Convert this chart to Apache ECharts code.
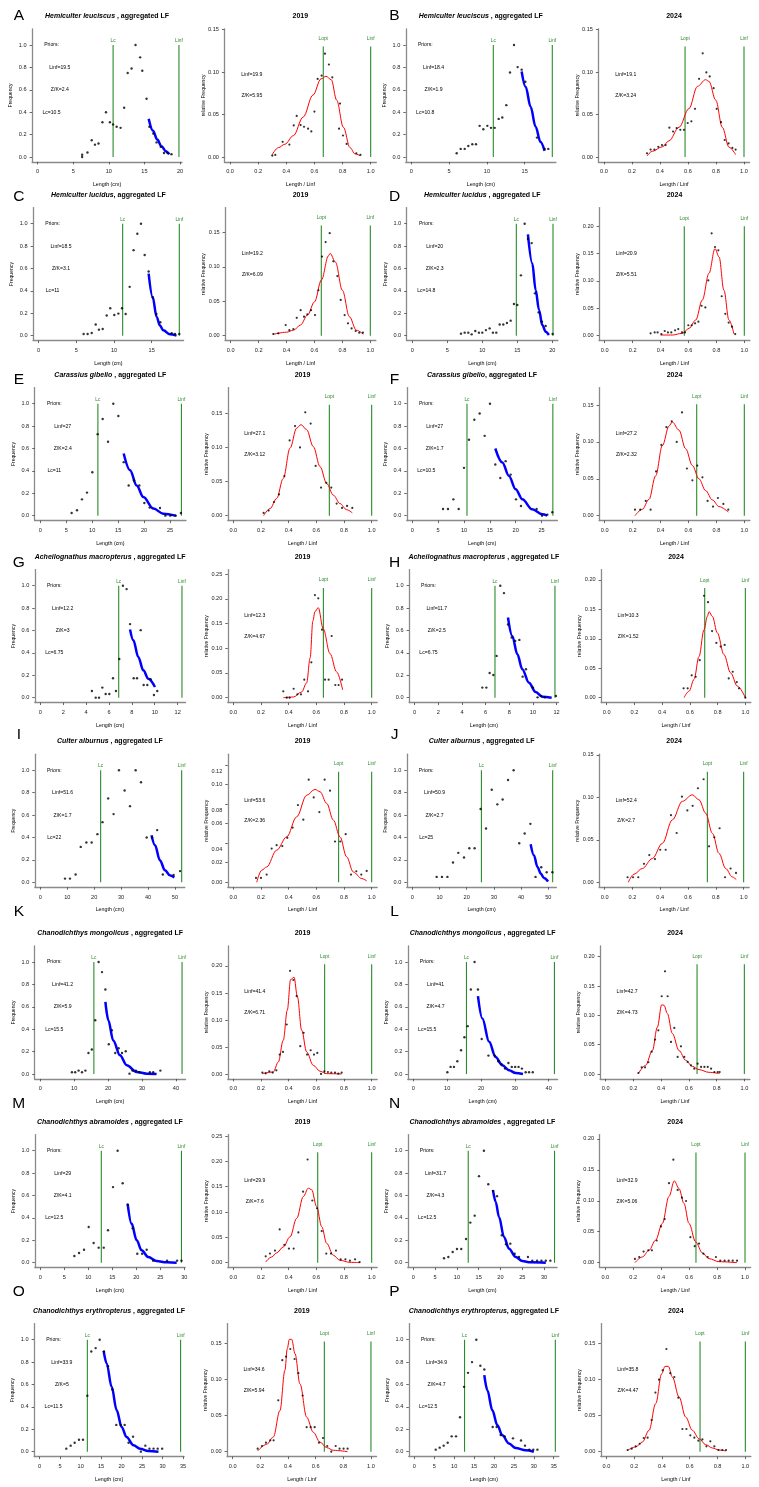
<!DOCTYPE html>
<html><head><meta charset="utf-8">
<script src="https://cdn.jsdelivr.net/npm/echarts@6/dist/echarts.min.js"></script>
<style>html,body{margin:0;padding:0;background:#fff}#c{width:759px;height:1487px}</style>
</head><body><div id="c"></div>
<script>
// ---------- DATA ----------
const letters = ['A','B','C','D','E','F','G','H','I','J','K','L','M','N','O','P'];
const species = ['Hemiculter leuciscus','Hemiculter leuciscus','Hemiculter lucidus','Hemiculter lucidus',
  'Carassius gibelio','Carassius gibelio','Acheilognathus macropterus','Acheilognathus macropterus',
  'Culter alburnus','Culter alburnus','Chanodichthys mongolicus','Chanodichthys mongolicus',
  'Chanodichthys abramoides','Chanodichthys abramoides','Chanodichthys erythropterus','Chanodichthys erythropterus'];
const titleSep = [' , ',' , ',', ',' , ',' , ',', ',' , ',' , ',' , ',' , ',' , ',' , ',' , ',' , ',' , ',', '];
const years = ['2019','2024'];
const priorLinf = [19.5,18.4,18.5,20,27,27,12.2,11.7,51.6,50.9,41.2,41,29,31.7,33.9,34.9];
const priorZK   = [2.4,1.9,3.1,2.3,2.4,1.7,3,2.5,1.7,2.7,5.9,4.7,4.1,4.3,5,4.7];
const priorLc   = [10.5,10.8,11,14.8,11,10.5,6.75,6.75,22,25,15.5,15.5,12.5,12.5,11.5,12.5];
const fitLinf   = [19.9,19.1,19.2,20.9,27.1,27.2,12.3,10.3,53.6,52.4,41.4,42.7,29.9,32.9,34.6,35.8];
const fitZK     = [5.95,3.24,6.09,5.51,3.12,2.32,4.67,1.52,2.36,2.7,6.71,4.73,7.6,5.06,5.94,4.47];
const lcLine    = [10.6,10.85,11.15,14.86,11.1,10.58,6.85,6.79,22.4,25.4,15.8,15.7,12.7,12.6,11.64,12.6];
const linfLine  = [19.85,18.66,18.67,20.1,27.2,27.2,12.38,11.86,52.5,51.6,41.8,41.7,29.4,32.4,34.4,35.4];
const loptLine  = [0.663,0.579,0.649,0.57,0.694,0.659,0.651,0.707,0.761,0.739,0.66,0.659,0.61,0.649,0.663,0.674];
const relTop    = [0.13,0.13,0.16,0.20,0.162,0.151,0.222,0.186,0.113,0.13,0.203,0.187,0.218,0.178,0.153,0.153];
const relYMax   = [0.145,0.145,0.179,0.225,0.18,0.167,0.249,0.209,0.126,0.145,0.228,0.21,0.243,0.199,0.171,0.171];
const lfXStep   = [5,5,5,5,5,5,2,2,10,10,10,10,5,5,5,5];
const relYStep  = [0.05,0.05,0.05,0.05,0.05,0.05,0.05,0.05,0.02,0.05,0.05,0.05,0.05,0.05,0.05,0.05];
const lfYTicks  = [0,0.2,0.4,0.6,0.8,1.0];
const relXTicks = [0,0.2,0.4,0.6,0.8,1.0];

// length-frequency points (length cm, frequency) and catch-curve fits
const lfA=[[6.25,0.02],[6.25,0.0],[7.0,0.04],[7.6,0.15],[8.05,0.11],[8.55,0.12],[9.1,0.31],[9.6,0.4],[10.15,0.31],[10.6,0.29],[11.1,0.27],[11.65,0.26],[12.15,0.44],[12.65,0.75],[13.2,0.79],[13.75,1.0],[14.4,0.89],[14.7,0.77],[15.3,0.52],[15.7,0.27],[16.25,0.21],[16.7,0.13],[17.3,0.09],[17.75,0.036],[18.25,0.036],[18.8,0.024]];
const fitA=[[15.6,0.34],[16.2,0.235],[16.8,0.155],[17.4,0.095],[18.0,0.052],[18.5,0.025]];
const lfB=[[6.0,0.033],[6.53,0.072],[7.06,0.072],[7.54,0.098],[8.07,0.113],[8.56,0.113],[9.04,0.278],[9.53,0.248],[10.06,0.278],[10.54,0.26],[11.03,0.26],[11.56,0.34],[12.04,0.352],[12.57,0.463],[13.06,0.755],[13.59,1.0],[14.07,0.803],[14.6,0.78],[15.09,0.672],[16.63,0.173],[17.64,0.072],[18.13,0.072]];
const fitB=[[14.6,0.764],[15.13,0.627],[15.79,0.448],[16.45,0.269],[17.1,0.134],[17.64,0.054]];
const lfC=[[5.97,0.015],[6.5,0.015],[7.04,0.024],[7.57,0.10],[8.0,0.054],[8.5,0.06],[9.03,0.18],[9.5,0.245],[10.04,0.185],[10.58,0.197],[11.06,0.245],[11.55,0.194],[12.08,0.436],[12.6,0.764],[13.1,0.91],[13.58,1.0],[14.07,0.72],[14.6,0.573],[15.13,0.343],[15.62,0.194],[16.15,0.12],[17.65,0.021],[18.1,0.015],[18.67,0.015]];
const fitC=[[14.6,0.555],[15.13,0.346],[15.66,0.167],[16.1,0.09],[16.55,0.048],[17.43,0.012],[18.3,0.0]];
const lfD=[[6.95,0.018],[7.48,0.027],[8.0,0.027],[8.48,0.012],[9.0,0.042],[9.52,0.027],[10.0,0.027],[10.52,0.05],[11.05,0.065],[11.52,0.027],[12.0,0.027],[12.48,0.10],[13.0,0.10],[13.52,0.113],[14.05,0.134],[14.52,0.283],[15.0,0.274],[15.52,0.539],[16.05,1.0],[16.52,0.863],[17.05,0.827],[17.52,0.378],[18.05,0.208],[18.52,0.125],[19.05,0.086],[20.05,0.015]];
const fitD=[[16.52,0.905],[17.14,0.646],[17.62,0.408],[18.1,0.23],[18.57,0.095],[19.05,0.036],[19.52,0.006]];
const lfE=[[6.04,0.024],[7.07,0.048],[8.03,0.146],[9.0,0.206],[10.03,0.388],[11.05,0.728],[12.02,0.863],[13.05,0.66],[14.07,1.0],[15.04,0.89],[16.07,0.478],[17.03,0.269],[18.06,0.316],[19.09,0.269],[20.05,0.113],[21.08,0.072],[23.07,0.069],[24.1,0.0],[25.06,0.0],[26.1,0.0],[27.1,0.024]];
const fitE=[[16.07,0.555],[17.3,0.406],[18.57,0.27],[19.86,0.167],[21.8,0.063],[23.7,0.018],[26.1,0.0]];
const lfF=[[5.94,0.06],[6.9,0.06],[7.94,0.146],[8.97,0.06],[10.0,0.427],[10.97,0.678],[12.0,0.857],[13.03,0.913],[14.0,0.713],[15.03,1.0],[16.06,0.457],[17.03,0.337],[18.06,0.487],[19.03,0.367],[20.06,0.146],[21.03,0.087],[24.06,0.06],[25.1,0.0],[26.13,0.009],[27.1,0.03]];
const fitF=[[16.06,0.60],[17.42,0.475],[18.7,0.355],[20.0,0.236],[21.3,0.146],[23.2,0.057],[25.16,0.012],[26.1,0.0]];
const lfG=[[4.51,0.06],[4.84,0.0],[5.13,0.0],[5.42,0.09],[5.71,0.033],[6.03,0.033],[6.35,0.173],[6.61,0.06],[6.9,0.346],[7.22,1.0],[7.54,0.97],[7.84,0.657],[8.16,0.173],[8.45,0.173],[8.77,0.603],[9.03,0.113],[9.35,0.113],[9.64,0.164],[9.93,0.024],[10.22,0.06]];
const fitG=[[7.84,0.609],[8.13,0.513],[8.56,0.364],[9.0,0.245],[9.44,0.17],[10.02,0.095]];
const lfH=[[5.72,0.09],[6.06,0.09],[6.34,0.22],[6.65,0.203],[6.93,0.373],[7.24,1.0],[7.55,0.934],[7.89,0.654],[8.2,0.537],[8.5,0.507],[8.85,0.516],[9.13,0.188],[9.41,0.254],[10.0,0.09],[10.39,0.003],[10.7,0.015],[11.0,0.003],[11.94,0.015]];
const fitH=[[7.89,0.716],[8.25,0.552],[8.68,0.388],[9.1,0.254],[9.66,0.134],[10.23,0.05],[10.79,0.009],[11.58,0.0]];
const lfI=[[9.16,0.033],[11.0,0.033],[13.1,0.069],[15.0,0.316],[17.1,0.355],[19.06,0.355],[21.2,0.43],[23.1,0.537],[25.2,0.749],[27.2,0.609],[29.2,1.0],[31.3,0.82],[33.3,0.68],[35.4,1.0],[37.4,0.893],[39.5,0.40],[41.5,0.40],[43.4,0.466],[45.5,0.069],[49.5,0.066],[51.9,0.10]];
const fitI=[[41.3,0.42],[42.6,0.331],[44.4,0.197],[46.3,0.107],[48.1,0.063],[49.75,0.042]];
const lfJ=[[8.95,0.048],[10.9,0.048],[12.9,0.048],[14.95,0.176],[16.9,0.263],[19.0,0.221],[20.96,0.304],[22.9,0.304],[25.1,0.654],[27.1,0.48],[29.2,0.827],[31.25,0.696],[33.2,0.74],[35.2,0.913],[37.25,1.0],[39.3,0.349],[41.3,0.436],[43.4,0.522],[45.3,0.048],[47.4,0.134],[49.4,0.09],[51.5,0.09]];
const fitJ=[[43.5,0.34],[44.7,0.242],[46.0,0.137],[47.2,0.078],[48.4,0.039],[49.9,0.006]];
const lfK=[[9.34,0.015],[10.3,0.015],[11.3,0.03],[12.3,0.015],[13.3,0.03],[14.2,0.188],[15.2,0.218],[16.2,0.48],[17.2,1.0],[18.2,0.91],[19.2,0.755],[20.2,0.266],[21.1,0.39],[22.1,0.188],[23.1,0.23],[24.1,0.188],[25.2,0.203],[26.3,0.003],[27.2,0.03],[28.2,0.03],[29.2,0.015],[32.3,0.015],[33.3,0.015],[35.4,0.03]];
const fitK=[[19.2,0.645],[20.06,0.48],[21.5,0.30],[23.5,0.167],[25.5,0.078],[28.4,0.018],[31.4,0.003],[34.3,0.0]];
const lfL=[[10.05,0.015],[11.0,0.063],[12.0,0.063],[13.0,0.113],[14.1,0.212],[15.1,0.328],[16.06,0.427],[17.0,0.755],[18.1,1.0],[19.1,0.755],[20.2,0.313],[22.2,0.164],[24.1,0.164],[25.1,0.113],[26.1,0.087],[27.1,0.048],[28.1,0.098],[29.1,0.063],[30.1,0.063],[31.1,0.063],[32.1,0.048],[33.2,0.015],[34.2,0.015],[35.3,0.015]];
const fitL=[[19.1,0.695],[20.4,0.495],[22.4,0.287],[24.3,0.152],[26.3,0.078],[28.3,0.033],[30.2,0.009],[32.4,0.0]];
const lfM=[[7.08,0.06],[8.06,0.087],[9.1,0.116],[10.07,0.319],[11.1,0.176],[12.15,0.134],[13.2,0.134],[14.1,0.29],[15.14,0.675],[16.1,1.0],[17.15,0.71],[18.2,0.52],[19.24,0.307],[20.2,0.08],[21.2,0.08],[22.15,0.116],[23.5,0.018],[26.4,0.018],[28.5,0.018],[29.4,0.018]];
const fitM=[[18.2,0.522],[19.0,0.349],[20.07,0.2],[21.1,0.11],[22.5,0.05],[24.2,0.015],[26.3,0.003],[28.4,0.0]];
const lfN=[[7.04,0.039],[8.03,0.051],[9.03,0.0955],[10.02,0.122],[11.0,0.122],[12.09,0.212],[13.08,0.358],[14.08,0.42],[15.07,0.773],[16.2,1.0],[17.2,0.70],[18.28,0.64],[19.2,0.594],[20.3,0.245],[21.27,0.164],[22.26,0.17],[23.26,0.08],[24.25,0.051],[26.3,0.051],[27.3,0.018],[28.4,0.018],[29.4,0.018],[30.4,0.018],[31.45,0.018]];
const fitN=[[18.28,0.648],[18.9,0.543],[19.66,0.409],[20.8,0.23],[21.96,0.125],[23.5,0.051],[25.0,0.015],[26.9,0.003],[30.4,0.0]];
const lfO=[[6.5,0.027],[7.57,0.054],[8.54,0.08],[9.6,0.107],[10.58,0.107],[11.64,0.50],[12.6,0.895],[13.67,0.925],[14.65,1.0],[15.7,0.895],[16.68,0.764],[17.74,0.555],[18.7,0.239],[19.77,0.239],[20.75,0.239],[21.7,0.08],[22.8,0.134],[24.7,0.0],[25.8,0.054],[26.8,0.027],[27.8,0.027],[28.8,0.027],[29.9,0.027]];
const fitO=[[15.62,0.90],[16.35,0.788],[17.57,0.579],[18.8,0.37],[20.0,0.221],[21.2,0.131],[22.9,0.057],[24.5,0.027],[26.5,0.006],[29.0,0.0]];
const lfP=[[5.36,0.018],[6.36,0.036],[7.36,0.054],[8.37,0.08],[9.37,0.137],[10.46,0.137],[11.46,0.307],[12.47,0.579],[13.47,0.704],[14.48,0.80],[15.56,1.0],[16.57,0.767],[17.57,0.734],[19.67,0.221],[20.67,0.221],[21.67,0.149],[22.68,0.137],[24.77,0.119],[26.78,0.10],[27.78,0.054],[28.87,0.018],[29.87,0.018],[30.9,0.018]];
const fitP=[[17.57,0.684],[18.33,0.549],[19.58,0.37],[20.84,0.236],[22.1,0.146],[23.77,0.072],[25.44,0.033],[27.95,0.012],[30.0,0.0]];

// relative frequency points (Length/Linf, rel. freq) and fitted curves
const relA=[[0.301,0.0016],[0.322,0.0024],[0.374,0.0178],[0.422,0.0146],[0.453,0.0372],[0.474,0.0483],[0.502,0.0376],[0.526,0.0356],[0.555,0.0333],[0.578,0.0301],[0.600,0.0535],[0.623,0.0919],[0.651,0.0958],[0.675,0.1216],[0.703,0.1089],[0.727,0.0938],[0.782,0.0629],[0.775,0.0333],[0.803,0.0253],[0.829,0.0154],[0.898,0.0044],[0.927,0.0024]];
const curveA=[[0.296,0.0016],[0.344,0.011],[0.39,0.015],[0.45,0.025],[0.52,0.047],[0.59,0.073],[0.647,0.092],[0.682,0.095],[0.72,0.091],[0.758,0.067],[0.806,0.035],[0.853,0.011],[0.889,0.0036],[0.924,0.0016]];
const relB=[[0.307,0.0044],[0.333,0.0087],[0.36,0.0087],[0.388,0.012],[0.414,0.014],[0.44,0.014],[0.467,0.0345],[0.493,0.030],[0.519,0.034],[0.545,0.032],[0.571,0.032],[0.598,0.040],[0.624,0.042],[0.65,0.0567],[0.679,0.092],[0.705,0.122],[0.731,0.0996],[0.755,0.0948],[0.783,0.081],[0.805,0.0567],[0.836,0.041],[0.862,0.020],[0.89,0.016],[0.917,0.0107],[0.94,0.0087]];
const curveB=[[0.307,0.0012],[0.345,0.0067],[0.417,0.012],[0.464,0.019],[0.536,0.035],[0.607,0.057],[0.667,0.083],[0.726,0.091],[0.75,0.089],[0.798,0.067],[0.845,0.035],[0.893,0.0115],[0.94,0.0028]];
const relC=[[0.305,0.0024],[0.341,0.0034],[0.394,0.0155],[0.42,0.008],[0.449,0.0097],[0.473,0.026],[0.501,0.037],[0.525,0.0276],[0.549,0.031],[0.575,0.037],[0.604,0.030],[0.628,0.066],[0.654,0.115],[0.680,0.136],[0.709,0.149],[0.735,0.108],[0.764,0.0866],[0.788,0.052],[0.816,0.030],[0.840,0.018],[0.866,0.0106],[0.895,0.0068],[0.921,0.0044],[0.947,0.0044]];
const curveC=[[0.305,0.002],[0.40,0.005],[0.45,0.008],[0.50,0.0155],[0.55,0.030],[0.60,0.049],[0.65,0.081],[0.70,0.116],[0.712,0.1195],[0.75,0.107],[0.80,0.066],[0.85,0.0276],[0.90,0.008],[0.95,0.002]];
const relD=[[0.329,0.0043],[0.358,0.006],[0.379,0.006],[0.406,0.003],[0.43,0.0085],[0.453,0.006],[0.477,0.006],[0.504,0.0097],[0.527,0.012],[0.554,0.006],[0.575,0.006],[0.599,0.019],[0.623,0.019],[0.647,0.0225],[0.671,0.0255],[0.694,0.0547],[0.721,0.0517],[0.742,0.101],[0.766,0.187],[0.79,0.162],[0.814,0.156],[0.838,0.072],[0.864,0.040],[0.888,0.024],[0.912,0.0164],[0.935,0.003]];
const curveD=[[0.40,0.0012],[0.484,0.0012],[0.556,0.0043],[0.604,0.0134],[0.652,0.0286],[0.699,0.065],[0.747,0.114],[0.79,0.159],[0.819,0.144],[0.854,0.083],[0.89,0.0286],[0.926,0.003]];
const relE=[[0.219,0.004],[0.255,0.0074],[0.294,0.020],[0.33,0.031],[0.369,0.058],[0.407,0.110],[0.446,0.131],[0.482,0.0997],[0.52,0.151],[0.559,0.1346],[0.595,0.0727],[0.634,0.041],[0.672,0.048],[0.708,0.041],[0.747,0.0177],[0.786,0.0113],[0.822,0.0142],[0.86,0.0113]];
const curveE=[[0.219,0.0],[0.265,0.0103],[0.313,0.025],[0.361,0.0545],[0.41,0.0987],[0.458,0.128],[0.489,0.133],[0.53,0.1257],[0.578,0.101],[0.627,0.0717],[0.675,0.047],[0.723,0.030],[0.771,0.0177],[0.819,0.0088],[0.86,0.004]];
const relF=[[0.217,0.0082],[0.255,0.0082],[0.294,0.020],[0.329,0.0082],[0.368,0.060],[0.406,0.096],[0.442,0.120],[0.48,0.128],[0.516,0.100],[0.554,0.140],[0.589,0.064],[0.628,0.048],[0.663,0.068],[0.70,0.052],[0.737,0.020],[0.776,0.0123],[0.811,0.024],[0.85,0.016],[0.885,0.0082]];
const curveF=[[0.217,0.0],[0.27,0.0087],[0.317,0.022],[0.365,0.054],[0.413,0.095],[0.461,0.1216],[0.484,0.127],[0.532,0.116],[0.58,0.0907],[0.628,0.068],[0.675,0.050],[0.723,0.034],[0.771,0.0214],[0.819,0.0123],[0.885,0.005]];
const relG=[[0.361,0.0128],[0.386,0.0],[0.407,0.0],[0.436,0.018],[0.463,0.0067],[0.489,0.0067],[0.513,0.0364],[0.54,0.0128],[0.564,0.0714],[0.59,0.2075],[0.614,0.2008],[0.641,0.1375],[0.663,0.0364],[0.689,0.0364],[0.711,0.1247],[0.737,0.0256],[0.761,0.0256],[0.786,0.0364]];
const curveG=[[0.361,0.0],[0.434,0.0013],[0.494,0.0115],[0.53,0.03],[0.555,0.08],[0.575,0.155],[0.59,0.174],[0.614,0.182],[0.65,0.139],[0.699,0.089],[0.747,0.052],[0.79,0.016]];
const relH=[[0.555,0.0158],[0.584,0.0158],[0.613,0.038],[0.642,0.0355],[0.671,0.0636],[0.702,0.173],[0.731,0.162],[0.76,0.113],[0.791,0.093],[0.822,0.0867],[0.851,0.0895],[0.88,0.0327],[0.909,0.044],[0.938,0.0265],[0.954,0.0158],[1.0,0.0]];
const curveH=[[0.558,0.0],[0.594,0.011],[0.63,0.031],[0.666,0.070],[0.702,0.115],[0.726,0.138],[0.738,0.146],[0.762,0.138],[0.798,0.11],[0.846,0.073],[0.894,0.042],[0.942,0.0197],[1.0,0.0]];
const relI=[[0.164,0.0044],[0.2,0.0044],[0.241,0.0079],[0.277,0.0345],[0.313,0.038],[0.354,0.037],[0.39,0.0455],[0.429,0.056],[0.467,0.079],[0.506,0.064],[0.545,0.105],[0.581,0.0868],[0.622,0.0718],[0.66,0.105],[0.699,0.0937],[0.735,0.0417],[0.773,0.0417],[0.812,0.0492],[0.851,0.0079],[0.889,0.0113],[0.925,0.0079],[0.964,0.0116]];
const curveI=[[0.169,0.0],[0.205,0.0123],[0.241,0.0157],[0.313,0.0328],[0.386,0.0465],[0.458,0.067],[0.53,0.089],[0.59,0.095],[0.627,0.0926],[0.675,0.0807],[0.723,0.0636],[0.771,0.0465],[0.819,0.026],[0.867,0.0106],[0.928,0.0038],[0.964,0.0014]];
const relJ=[[0.165,0.0059],[0.204,0.0059],[0.242,0.0059],[0.283,0.0217],[0.321,0.032],[0.362,0.0273],[0.40,0.0383],[0.439,0.0383],[0.477,0.079],[0.518,0.058],[0.556,0.1008],[0.595,0.0846],[0.633,0.090],[0.671,0.1107],[0.712,0.1213],[0.751,0.0423],[0.789,0.053],[0.827,0.0636],[0.866,0.0059],[0.906,0.0162],[0.945,0.011]];
const curveJ=[[0.17,0.0],[0.211,0.0095],[0.271,0.0162],[0.343,0.028],[0.415,0.0458],[0.487,0.0735],[0.559,0.0953],[0.631,0.103],[0.679,0.097],[0.727,0.0814],[0.775,0.0577],[0.823,0.034],[0.871,0.0162],[0.918,0.0063],[0.947,0.0032]];
const relK=[[0.21,0.0025],[0.234,0.0012],[0.26,0.005],[0.284,0.0025],[0.311,0.0068],[0.335,0.0359],[0.359,0.0408],[0.386,0.0916],[0.41,0.191],[0.434,0.174],[0.458,0.144],[0.484,0.0514],[0.508,0.0761],[0.533,0.0359],[0.559,0.0439],[0.583,0.0359],[0.607,0.039],[0.634,0.0],[0.658,0.005],[0.684,0.0037],[0.708,0.0025],[0.735,0.0025],[0.759,0.0006],[0.783,0.0025]];
const curveK=[[0.21,0.0006],[0.289,0.0037],[0.325,0.022],[0.361,0.0625],[0.39,0.118],[0.414,0.175],[0.439,0.179],[0.463,0.143],[0.494,0.081],[0.53,0.0408],[0.578,0.016],[0.627,0.005],[0.675,0.0006],[0.783,0.0]];
const relL=[[0.236,0.0017],[0.26,0.0114],[0.284,0.0114],[0.308,0.020],[0.332,0.038],[0.356,0.0586],[0.38,0.0745],[0.404,0.1325],[0.428,0.175],[0.447,0.1325],[0.471,0.0546],[0.495,0.0785],[0.519,0.029],[0.543,0.0472],[0.567,0.029],[0.591,0.0205],[0.615,0.0148],[0.639,0.0091],[0.663,0.0176],[0.688,0.012],[0.712,0.012],[0.736,0.012],[0.76,0.0091],[0.784,0.0034],[0.808,0.0034],[0.822,0.0034]];
const curveL=[[0.236,0.0006],[0.288,0.0148],[0.337,0.040],[0.373,0.080],[0.404,0.118],[0.421,0.117],[0.445,0.103],[0.481,0.069],[0.529,0.040],[0.577,0.0233],[0.625,0.013],[0.673,0.0074],[0.745,0.0028],[0.822,0.0006]];
const relM=[[0.234,0.0126],[0.265,0.0179],[0.301,0.0239],[0.335,0.0657],[0.369,0.0351],[0.402,0.0279],[0.436,0.0279],[0.47,0.0597],[0.504,0.14],[0.537,0.2036],[0.571,0.1227],[0.605,0.1074],[0.639,0.0623],[0.672,0.0179],[0.706,0.0179],[0.742,0.0239],[0.776,0.0066],[0.81,0.0066],[0.843,0.004],[0.88,0.0066],[0.913,0.0013]];
const curveM=[[0.234,0.0013],[0.277,0.0113],[0.313,0.0192],[0.361,0.031],[0.41,0.051],[0.458,0.0875],[0.506,0.1306],[0.542,0.147],[0.566,0.144],[0.602,0.111],[0.639,0.071],[0.675,0.038],[0.723,0.0146],[0.771,0.0046],[0.843,0.0007],[0.916,0.0]];
const relN=[[0.212,0.006],[0.243,0.0092],[0.274,0.0179],[0.308,0.020],[0.334,0.020],[0.368,0.0358],[0.399,0.0585],[0.425,0.0705],[0.456,0.1285],[0.487,0.1664],[0.518,0.1176],[0.549,0.105],[0.578,0.0997],[0.609,0.0412],[0.64,0.0266],[0.671,0.0309],[0.702,0.0146],[0.733,0.0092],[0.792,0.0092],[0.823,0.0033],[0.854,0.0033],[0.883,0.0033],[0.912,0.0033],[0.943,0.0033]];
const curveN=[[0.212,0.0],[0.265,0.0092],[0.313,0.020],[0.36,0.0363],[0.408,0.0634],[0.456,0.107],[0.494,0.1322],[0.527,0.12],[0.563,0.096],[0.599,0.0634],[0.647,0.0336],[0.695,0.0157],[0.742,0.0065],[0.814,0.0016],[0.943,0.0]];
const relO=[[0.181,0.0042],[0.212,0.0079],[0.241,0.0125],[0.272,0.0157],[0.296,0.0157],[0.33,0.0713],[0.359,0.127],[0.386,0.132],[0.417,0.1426],[0.448,0.1287],[0.475,0.109],[0.506,0.078],[0.535,0.034],[0.564,0.034],[0.593,0.034],[0.624,0.0125],[0.653,0.019],[0.684,0.0079],[0.713,0.0],[0.745,0.0079],[0.773,0.0042],[0.802,0.0042],[0.831,0.0042]];
const curveO=[[0.181,0.001],[0.246,0.0102],[0.294,0.0204],[0.342,0.057],[0.378,0.113],[0.395,0.143],[0.41,0.156],[0.427,0.156],[0.451,0.136],[0.487,0.094],[0.535,0.048],[0.583,0.027],[0.631,0.0134],[0.68,0.0056],[0.728,0.0019],[0.831,0.0]];
const relP=[[0.153,0.0023],[0.182,0.0042],[0.211,0.0074],[0.24,0.011],[0.269,0.019],[0.297,0.0194],[0.326,0.044],[0.353,0.082],[0.379,0.10],[0.405,0.113],[0.432,0.1426],[0.46,0.109],[0.489,0.1037],[0.518,0.075],[0.547,0.0315],[0.576,0.0315],[0.604,0.0227],[0.633,0.0194],[0.662,0.0153],[0.691,0.017],[0.72,0.0074],[0.748,0.0144],[0.777,0.0074],[0.806,0.0023],[0.835,0.0023],[0.861,0.0023]];
const curveP=[[0.153,0.0019],[0.211,0.0065],[0.259,0.0134],[0.307,0.0296],[0.355,0.0667],[0.398,0.108],[0.422,0.1185],[0.446,0.1185],[0.475,0.1037],[0.523,0.076],[0.571,0.048],[0.619,0.0296],[0.667,0.018],[0.715,0.0097],[0.763,0.0051],[0.81,0.0023],[0.861,0.0009]];

const lfPts  = [lfA,lfB,lfC,lfD,lfE,lfF,lfG,lfH,lfI,lfJ,lfK,lfL,lfM,lfN,lfO,lfP];
const lfFits = [fitA,fitB,fitC,fitD,fitE,fitF,fitG,fitH,fitI,fitJ,fitK,fitL,fitM,fitN,fitO,fitP];
const relPts = [relA,relB,relC,relD,relE,relF,relG,relH,relI,relJ,relK,relL,relM,relN,relO,relP];
const relFits= [curveA,curveB,curveC,curveD,curveE,curveF,curveG,curveH,curveI,curveJ,curveK,curveL,curveM,curveN,curveO,curveP];

// ---------- LAYOUT ----------
const rowTop = [28.9,207.6,387.6,569.6,754.2,945.9,1134.6,1323.6];
const GH = 133;
const lfLeft  = [32.1,405.8,33.1,406.7,34.7,406.75,34.75,409.1,34.8,406.8,34.7,407.8,34.8,407.8,34.1,408.8];
const lfRight = [182.0,555.9,183.6,557.9,186,557.4,185.5,558.6,184.8,556.3,185.6,557.6,185.1,557,184.1,558.9];
const relLeft = [224.4,598.4,225.1,599.1,227.8,599.1,227.8,601.1,227.8,599.1,227.8,600.1,227.8,599.7,227.1,600.8];
const relRight= [376.3,749.6,375.9,749.9,377.2,749.9,377.2,750.9,377.2,749.2,377.2,749.9,377.2,750.6,376.5,750.9];
const letterX = [18.8,394.5];
const letterY = [15.5,196.5,380,563,735,912,1104,1292];
const titleY  = [16,195,375,557,741.5,933,1122,1311];

const FONT = '"Liberation Sans", Arial, Helvetica, sans-serif';
const GREEN = '#2b8a2b';

function ticksUpTo(max, step){ const a=[]; for(let i=0;i*step<=max+1e-9;i++) a.push(+(i*step).toFixed(4)); return a; }

const chart = echarts.init(document.getElementById('c'), null, {renderer:'canvas'});
const grids=[], xAxes=[], yAxes=[], series=[];

function baseAxis(gi, min, max, tv, fmt, margin, extraLabel){
  return {
    type:'value', gridIndex:gi, min, max, scale:false,
    axisLine:{show:true, onZero:false, lineStyle:{color:'#8a8a8a', width:1.3}},
    axisTick:{show:true, length:2.5, customValues:tv, lineStyle:{color:'#444', width:0.8}},
    axisLabel:Object.assign({show:true, customValues:tv, formatter:fmt, color:'#222', fontSize:5.6, fontFamily:FONT, margin}, extraLabel||{}),
    splitLine:{show:false}
  };
}
function vline(gi, x, top){
  return {type:'line', xAxisIndex:gi, yAxisIndex:gi, data:[[x,0],[x,top]], symbol:'none', silent:true,
    lineStyle:{color:GREEN, width:1.1}, z:1};
}

for (let k=0;k<16;k++){
  const r=k>>1;
  const L=priorLinf[k];
  // LF panel
  const g1=2*k;
  grids.push({left:lfLeft[k], top:rowTop[r], width:lfRight[k]-lfLeft[k], height:GH});
  xAxes.push(baseAxis(g1, -0.04*L, 1.04*L, ticksUpTo(1.04*L, lfXStep[k]), v=>String(v), 7));
  yAxes.push(baseAxis(g1, -0.044, 1.144, lfYTicks, v=>v.toFixed(1), 5.5));
  series.push(vline(g1, lcLine[k], 1.0));
  series.push(vline(g1, linfLine[k], 1.0));
  series.push({type:'scatter', xAxisIndex:g1, yAxisIndex:g1, data:lfPts[k], symbol:'circle', symbolSize:2.4,
    itemStyle:{color:'#000'}, silent:true, z:3});
  series.push({type:'line', xAxisIndex:g1, yAxisIndex:g1, data:lfFits[k], smooth:0.35, smoothMonotone:'x', symbol:'none',
    silent:true, lineStyle:{color:'#0000ff', width:2.5}, z:2});
  // relative panel
  const g2=2*k+1, ym=relYMax[k];
  grids.push({left:relLeft[k], top:rowTop[r], width:relRight[k]-relLeft[k], height:GH});
  xAxes.push(baseAxis(g2, -0.04, 1.04, relXTicks, v=>v.toFixed(1), 7));
  let extra=null;
  if (relYStep[k]===0.02){
    extra={formatter:v=>{const s=v.toFixed(2); const h=Math.round(v*100); return (h%4===0 && h>0)?'{d|'+s+'}':s;},
      rich:{d:{padding:[13.5,0,0,0], fontSize:5.6, color:'#222', fontFamily:FONT}}};
  }
  yAxes.push(baseAxis(g2, -0.04*ym, 1.04*ym, ticksUpTo(1.04*ym, relYStep[k]), v=>v.toFixed(2), 5.5, extra));
  series.push(vline(g2, loptLine[k], relTop[k]));
  series.push(vline(g2, 1.0, relTop[k]));
  series.push({type:'scatter', xAxisIndex:g2, yAxisIndex:g2, data:relPts[k], symbol:'circle', symbolSize:2.2,
    itemStyle:{color:'#000'}, silent:true, z:3});
  series.push({type:'line', xAxisIndex:g2, yAxisIndex:g2, data:relFits[k], smooth:0.35, smoothMonotone:'x', symbol:'none',
    silent:true, lineStyle:{color:'#ff0000', width:1}, z:2});
}

chart.setOption({animation:false, backgroundColor:'#fff', grid:grids, xAxis:xAxes, yAxis:yAxes, series});

// ---------- TEXT ----------
const els=[];
function txt(x,y,text,size,extra){
  els.push(Object.assign({type:'text', x, y, silent:true,
    style:Object.assign({text, fontSize:size, fontFamily:FONT, fill:'#000', align:'center', verticalAlign:'middle'}, (extra&&extra.style)||{})},
    extra&&extra.el||{}));
}
function px(gi, pt){ return chart.convertToPixel({gridIndex:gi}, pt); }

for (let k=0;k<16;k++){
  const r=k>>1, s=k&1, L=priorLinf[k], ym=relYMax[k];
  const g1=2*k, g2=2*k+1;
  const cx1=(lfLeft[k]+lfRight[k])/2, cx2=(relLeft[k]+relRight[k])/2;
  // panel letter
  txt(letterX[s], letterY[r], letters[k], 15.5);
  // titles
  els.push({type:'text', x:cx1, y:titleY[r], silent:true, style:{
    text:'{i|'+species[k]+'}{n|'+titleSep[k]+'aggregated LF}', align:'center', verticalAlign:'middle',
    rich:{i:{fontSize:7, fontWeight:'bold', fontStyle:'italic', fontFamily:FONT, fill:'#000'},
          n:{fontSize:7, fontWeight:'bold', fontFamily:FONT, fill:'#000'}}}});
  txt(cx2, titleY[r], years[s], 7, {style:{fontWeight:'bold'}});
  // axis titles
  txt(cx1, rowTop[r]+155.6, 'Length (cm)', 5.3);
  txt(cx2, rowTop[r]+155.6, 'Length / Linf', 5.3);
  txt(lfLeft[k]-21.3, rowTop[r]+GH/2, 'Frequency', 5.1, {el:{rotation:Math.PI/2}});
  txt(relLeft[k]-21.3, rowTop[r]+GH/2, 'relative Frequency', 5.1, {el:{rotation:Math.PI/2}});
  // priors text
  let p;
  p=px(g1,[0.1*L,1.0]);  txt(p[0],p[1],'Priors:',5.1);
  p=px(g1,[0.16*L,0.8]); txt(p[0],p[1],'Linf='+priorLinf[k],5.1);
  p=px(g1,[0.16*L,0.6]); txt(p[0],p[1],'Z/K='+priorZK[k],5.1);
  p=px(g1,[0.1*L,0.4]);  txt(p[0],p[1],'Lc='+priorLc[k],5.1);
  // fitted text
  p=px(g2,[0.155,0.667*ym]); txt(p[0],p[1],'Linf='+fitLinf[k],5.1);
  p=px(g2,[0.155,0.5*ym]);   txt(p[0],p[1],'Z/K='+fitZK[k],5.1);
  // line labels
  p=px(g1,[lcLine[k],1.0]);   txt(p[0],p[1]-4.3,'Lc',4.8,{style:{fill:GREEN}});
  p=px(g1,[linfLine[k],1.0]); txt(p[0],p[1]-4.3,'Linf',4.8,{style:{fill:GREEN}});
  p=px(g2,[loptLine[k],relTop[k]]); txt(p[0],p[1]-7.8,'Lopt',4.8,{style:{fill:GREEN}});
  p=px(g2,[1.0,relTop[k]]);         txt(p[0],p[1]-7.8,'Linf',4.8,{style:{fill:GREEN}});
}
chart.setOption({graphic:{elements:els}});
</script>
</body></html>
